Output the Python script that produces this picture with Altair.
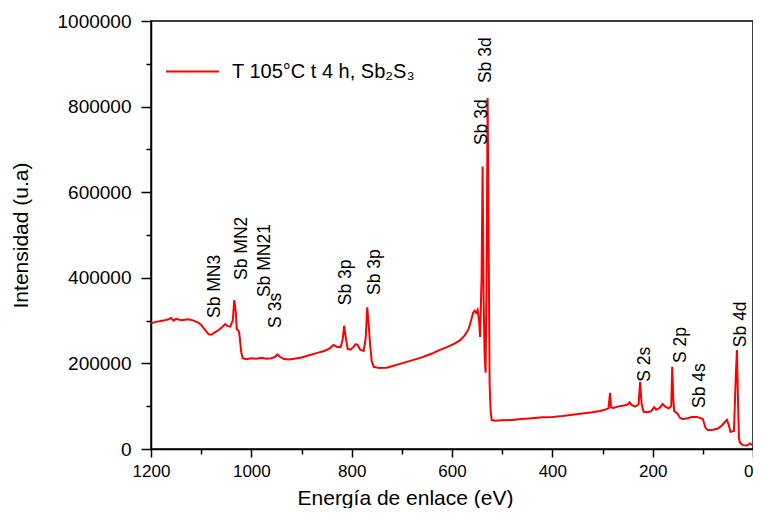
import altair as alt
import pandas as pd

FONT = "Liberation Sans, Arial, sans-serif"

energy = [1200, 1190, 1175, 1165, 1160, 1155, 1150, 1140, 1125, 1115, 1105, 1100, 1092, 1085, 1080,
          1072, 1065, 1058, 1052, 1047, 1042, 1037, 1034, 1031, 1029, 1026, 1024, 1020, 1017, 1010,
          1000, 990, 980, 970, 960, 952, 948, 944, 935, 925, 915, 900, 885, 870, 855, 845, 836, 830,
          822, 818, 815, 812, 808, 802, 797, 792, 788, 783, 776, 772, 769, 766, 763, 760, 756, 745,
          730, 715, 700, 680, 660, 640, 625, 610, 595, 585, 575, 567, 562, 558, 555, 552, 549, 546,
          544, 541, 539, 537, 535, 533, 531, 529, 527, 525, 523, 521, 515, 500, 480, 462, 440, 420,
          400, 380, 360, 340, 320, 305, 295, 288, 285, 283, 278, 270, 260, 250, 246, 242, 235, 228,
          225, 222, 218, 210, 203, 197, 193, 186, 180, 175, 168, 163, 161, 159, 157, 154, 150, 145,
          140, 130, 122, 112, 105, 100, 95, 90, 80, 70, 62, 56, 52, 48, 45, 38, 34, 32, 30, 28, 26,
          20, 12, 6, 3, 0]
intensity = [294000, 297000, 300000, 303000, 306000, 300000, 304000, 301000, 303000, 300000, 295000,
             290000, 278000, 268000, 267000, 273000, 278000, 285000, 292000, 287000, 286000, 300000,
             348000, 320000, 280000, 277000, 270000, 225000, 212000, 210000, 212000, 211000, 213000,
             211000, 212000, 216000, 221000, 216000, 210000, 209000, 211000, 214000, 219000, 224000,
             229000, 234000, 243000, 239000, 238000, 255000, 288000, 262000, 234000, 232000, 238000,
             245000, 243000, 232000, 229000, 260000, 331000, 290000, 240000, 205000, 192000, 189000,
             190000, 195000, 200000, 207000, 214000, 223000, 231000, 238000, 246000, 253000, 265000,
             280000, 300000, 318000, 323000, 318000, 325000, 300000, 262000, 400000, 660000, 350000,
             220000, 178000, 400000, 820000, 500000, 150000, 90000, 68000, 66000, 67000, 68000,
             70000, 72000, 74000, 75000, 77000, 80000, 83000, 86000, 89000, 92000, 95000, 131000,
             97000, 96000, 99000, 101000, 104000, 109000, 103000, 99000, 104000, 157000, 105000,
             87000, 86000, 88000, 98000, 92000, 96000, 105000, 99000, 95000, 100000, 192000, 120000,
             88000, 86000, 82000, 72000, 70000, 72000, 75000, 75000, 72000, 70000, 50000, 44000,
             45000, 48000, 55000, 63000, 68000, 55000, 40000, 42000, 180000, 231000, 120000, 25000,
             15000, 9000, 8000, 13000, 10000, 9000]

peak_names = ["Sb MN3", "Sb MN2", "Sb MN21", "S 3s", "Sb 3p", "Sb 3p", "Sb 3d", "Sb 3d",
              "S 2s", "S 2p", "Sb 4s", "Sb 4d"]
peak_x = [1073, 1019, 973, 951, 812, 754, 541, 533, 215, 143, 105, 24]
peak_y = [306000, 395000, 355000, 283000, 336000, 360000, 710000, 855000, 157000, 201000, 96000, 238000]

series_name = "T 105°C t 4 h, Sb₂S₃"

x_major = [0, 200, 400, 600, 800, 1000, 1200]
x_minor = [100, 300, 500, 700, 900, 1100]
y_major = [0, 200000, 400000, 600000, 800000, 1000000]
y_minor = [100000, 300000, 500000, 700000, 900000]

df = pd.DataFrame({"energy": energy, "intensity": intensity, "series": series_name})
labels = pd.DataFrame({"name": peak_names, "x": peak_x, "y": peak_y})

x_scale = alt.Scale(domain=[0, 1200], reverse=True, nice=False)
y_scale = alt.Scale(domain=[0, 1000000], nice=False)

line = alt.Chart(df).mark_line(strokeWidth=2, clip=True).encode(
    x=alt.X("energy:Q", scale=x_scale,
            axis=alt.Axis(orient="bottom", values=x_major, tickSize=8, labelFontSize=17,
                          labelPadding=6, labelFlush=False,
                          labelAlign={"expr": "datum.value === 0 ? 'right' : 'center'"},
                          title="Energía de enlace (eV)",
                          titleFontSize=21, titleX=254, titleY=55, titleBaseline="alphabetic",
                          titleAlign="center", format="d")),
    y=alt.Y("intensity:Q", scale=y_scale,
            axis=alt.Axis(orient="left", values=y_major, tickSize=10, labelFontSize=19,
                          labelPadding=10, labelFlush=False, title="Intensidad (u.a)",
                          titleFontSize=21, titlePadding=26, format="d")),
    color=alt.Color("series:N", scale=alt.Scale(range=["#ff0000"]),
                    legend=alt.Legend(title=None, orient="none", legendX=14, legendY=23,
                                      symbolType="stroke", symbolSize=2809, symbolStrokeWidth=2,
                                      labelFontSize=20, labelOffset=12, labelLimit=500,
                                      padding=0)),
)

minor = alt.Chart(df).mark_line(opacity=0).encode(
    x=alt.X("energy:Q", scale=x_scale,
            axis=alt.Axis(orient="bottom", values=x_minor, tickSize=5, labels=False,
                          domain=False, title=None)),
    y=alt.Y("intensity:Q", scale=y_scale,
            axis=alt.Axis(orient="left", values=y_minor, tickSize=5, labels=False,
                          domain=False, title=None)),
)

text = alt.Chart(labels).mark_text(angle=270, align="left", baseline="middle", fontSize=17.5,
                                   font=FONT, color="black").encode(
    x=alt.X("x:Q", scale=x_scale, axis=None),
    y=alt.Y("y:Q", scale=y_scale, axis=None),
    text="name:N",
)

chart = alt.layer(line, minor, text).resolve_axis(x="independent", y="independent").properties(
    width=602, height=428,
    autosize=alt.AutoSizeParams(type="none"),
    padding={"left": 143, "top": 13, "right": 0, "bottom": 59},
).configure_view(stroke="black", strokeWidth=1.5).configure_axis(
    domainColor="black", domainWidth=1.5, tickColor="black", tickWidth=1.5, grid=False,
    labelFont=FONT, titleFont=FONT, labelColor="black", titleColor="black",
    titleFontWeight="normal",
).configure_legend(labelFont=FONT, labelColor="black")

chart.save("out.html", embed_options={"renderer": "svg", "actions": False})
